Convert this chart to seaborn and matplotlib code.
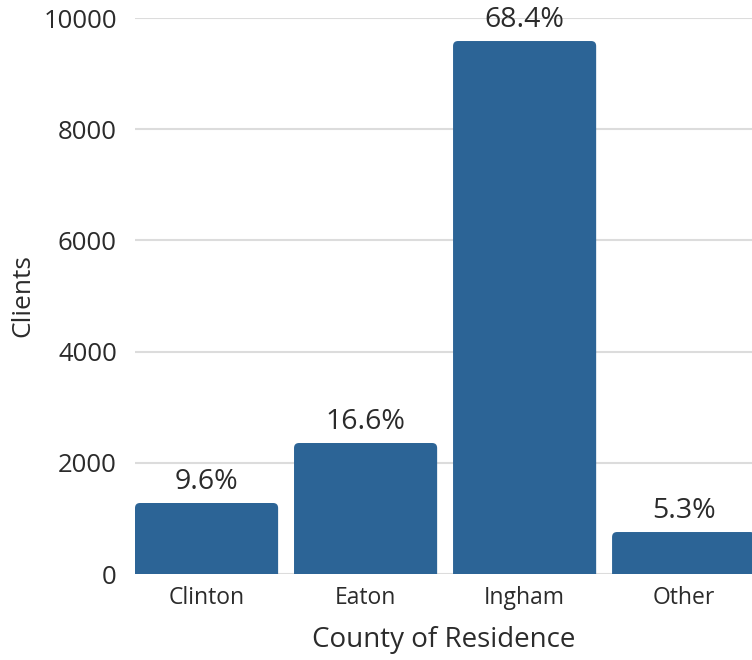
import matplotlib
matplotlib.use("Agg")
import matplotlib.pyplot as plt
import seaborn as sns
import pandas as pd
from matplotlib.patches import FancyBboxPatch

counties = ["Clinton", "Eaton", "Ingham", "Other"]
clients = [1277, 2356, 9586, 755]
pct_labels = ["9.6%", "16.6%", "68.4%", "5.3%"]
y_ticks = [0, 2000, 4000, 6000, 8000, 10000]

sns.set_theme(style="white")
plt.rcParams["font.family"] = ["Open Sans", "DejaVu Sans"]
TXT = "#2b2b2b"
BAR = "#2c6496"

df = pd.DataFrame({"County": counties, "Clients": clients})

fig = plt.figure(figsize=(7.52, 6.6), dpi=100)
W, H = 752, 660
ax = fig.add_axes([135 / W, 86 / H, (752 - 135) / W, 556 / H])

sns.barplot(data=df, x="County", y="Clients", color=BAR, width=0.9,
            saturation=1, ax=ax, zorder=3)

ax.set_xlim(-0.45, 3.43)
ax.set_ylim(0, 10000)

# rounded tops
rx = 5 / 159
ry = 5 / 556 * 10000
patches = list(ax.patches)
for p in patches:
    x0, w, h = p.get_x(), p.get_width(), p.get_height()
    fb = FancyBboxPatch((x0, -300), w, h + 300,
                        boxstyle=f"round,pad=0,rounding_size={rx}",
                        mutation_aspect=ry / rx,
                        facecolor=BAR, edgecolor="none", zorder=3)
    fb.set_clip_path(ax.patch)
    ax.add_patch(fb)
    p.remove()

for i, (v, lab) in enumerate(zip(clients, pct_labels)):
    ax.annotate(lab, (i, v), xytext=(0, 5), textcoords="offset points",
                ha="center", va="bottom", fontsize=20.5, color=TXT,
                annotation_clip=False)

ax.set_yticks(y_ticks)
ax.set_yticklabels([str(t) for t in y_ticks])
ax.yaxis.grid(True, color="#dcdcdc", linewidth=1.5, zorder=0)
ax.xaxis.grid(False)
ax.set_axisbelow(True)
for s in ax.spines.values():
    s.set_visible(False)
ax.tick_params(axis="y", length=0, pad=13, labelsize=18.5, labelcolor=TXT)
ax.tick_params(axis="x", length=0, pad=9, labelsize=16.5, labelcolor=TXT)

ax.set_xlabel("County of Residence", fontsize=20, color=TXT, labelpad=11)
ax.set_ylabel("Clients", fontsize=19, color=TXT, labelpad=6)

fig.savefig("out.png", dpi=100)
